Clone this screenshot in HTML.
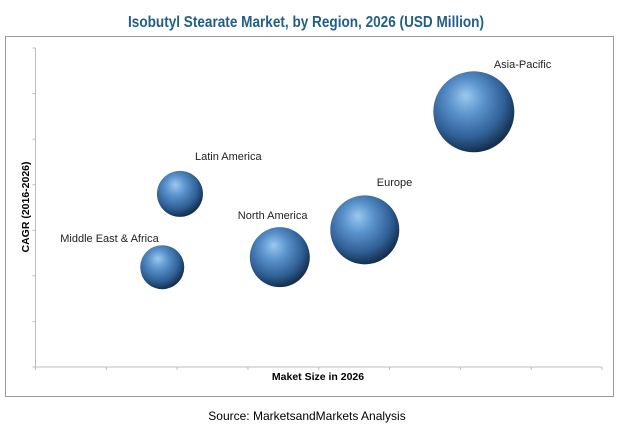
<!DOCTYPE html>
<html><head><meta charset="utf-8"><style>
body{margin:0;background:#fff;width:618px;height:427px;overflow:hidden;font-family:"Liberation Sans",sans-serif}
</style></head><body>
<svg id="chart" width="618" height="427" xmlns="http://www.w3.org/2000/svg">
<defs>
<radialGradient id="ball" cx="0.42" cy="0.38" r="0.62" fx="0.4" fy="0.3">
<stop offset="0" stop-color="#9cc9ef"/>
<stop offset="0.35" stop-color="#5b93cc"/>
<stop offset="0.75" stop-color="#2f5f95"/>
<stop offset="1" stop-color="#14304f"/>
</radialGradient>
</defs>
<text x="128" y="27" textLength="356" lengthAdjust="spacingAndGlyphs" font-family="Liberation Sans, sans-serif" font-weight="bold" font-size="16" fill="#215f88">Isobutyl Stearate Market, by Region, 2026 (USD Million)</text>
<rect x="5.5" y="36.5" width="608" height="360" fill="none" stroke="#9a9a9a"/>
<g id="axes"></g>
<g id="bubbles"></g>
<text x="318" y="380" text-anchor="middle" font-weight="bold" font-size="10.5" fill="#000">Maket Size in 2026</text>
<text transform="translate(29,207) rotate(-90)" text-anchor="middle" font-weight="bold" font-size="10.5" fill="#000">CAGR (2016-2026)</text>
<text x="307" y="420" text-anchor="middle" font-size="12" fill="#000">Source:  MarketsandMarkets Analysis</text>
</svg>
<script>
const regions=["Asia-Pacific","Europe","North America","Latin America","Middle East & Africa"];
const marketSize=[6.19,4.65,3.45,2.04,1.79];
const cagr=[5.6,3.01,2.41,3.8,2.19];
const bubbleRadius=[40.5,34.5,30,23,22];
const xTicks=[0,1,2,3,4,5,6,7,8];
const yTicks=[0,1,2,3,4,5,6,7];
const NS="http://www.w3.org/2000/svg";
const x0=35.5,x1=602,y0=367,y1=48;
const sx=v=>x0+(v/8)*(x1-x0);
const sy=v=>y0-(v/7)*(y0-y1);
const axes=document.getElementById('axes');
function mk(t,a,p){const e=document.createElementNS(NS,t);for(const k in a)e.setAttribute(k,a[k]);p.appendChild(e);return e;}
const ya=mk('line',{x1:x0,y1:y1,x2:x0,y2:y0,stroke:'#bdbdbd'},axes);


const xa=mk('line',{x1:x0,y1:y0,x2:x1,y2:y0,stroke:'#bdbdbd'},axes);


yTicks.forEach(v=>{const t=mk('line',{x1:x0-3,y1:sy(v),x2:x0,y2:sy(v),stroke:'#bdbdbd'},axes);

});
xTicks.forEach(v=>{const t=mk('line',{x1:sx(v),y1:y0,x2:sx(v),y2:y0+3,stroke:'#bdbdbd'},axes);

});
const lblOff=[[20,-44],[12,-44],[-42,-38],[15,-34],[-102,-25]];
const bg=document.getElementById('bubbles');
regions.forEach((r,i)=>{
 const cx=sx(marketSize[i]),cy=sy(cagr[i]),rr=bubbleRadius[i];
 const c=mk('ellipse',{cx:cx,cy:cy,rx:rr,ry:rr,fill:'url(#ball)'},bg);
 
 
 const t=mk('text',{x:cx+lblOff[i][0],y:cy+lblOff[i][1],'font-size':'11','font-family':'Liberation Sans, sans-serif',fill:'#222'},bg);
 t.textContent=r;
 
 
});
</script>
</body></html>
